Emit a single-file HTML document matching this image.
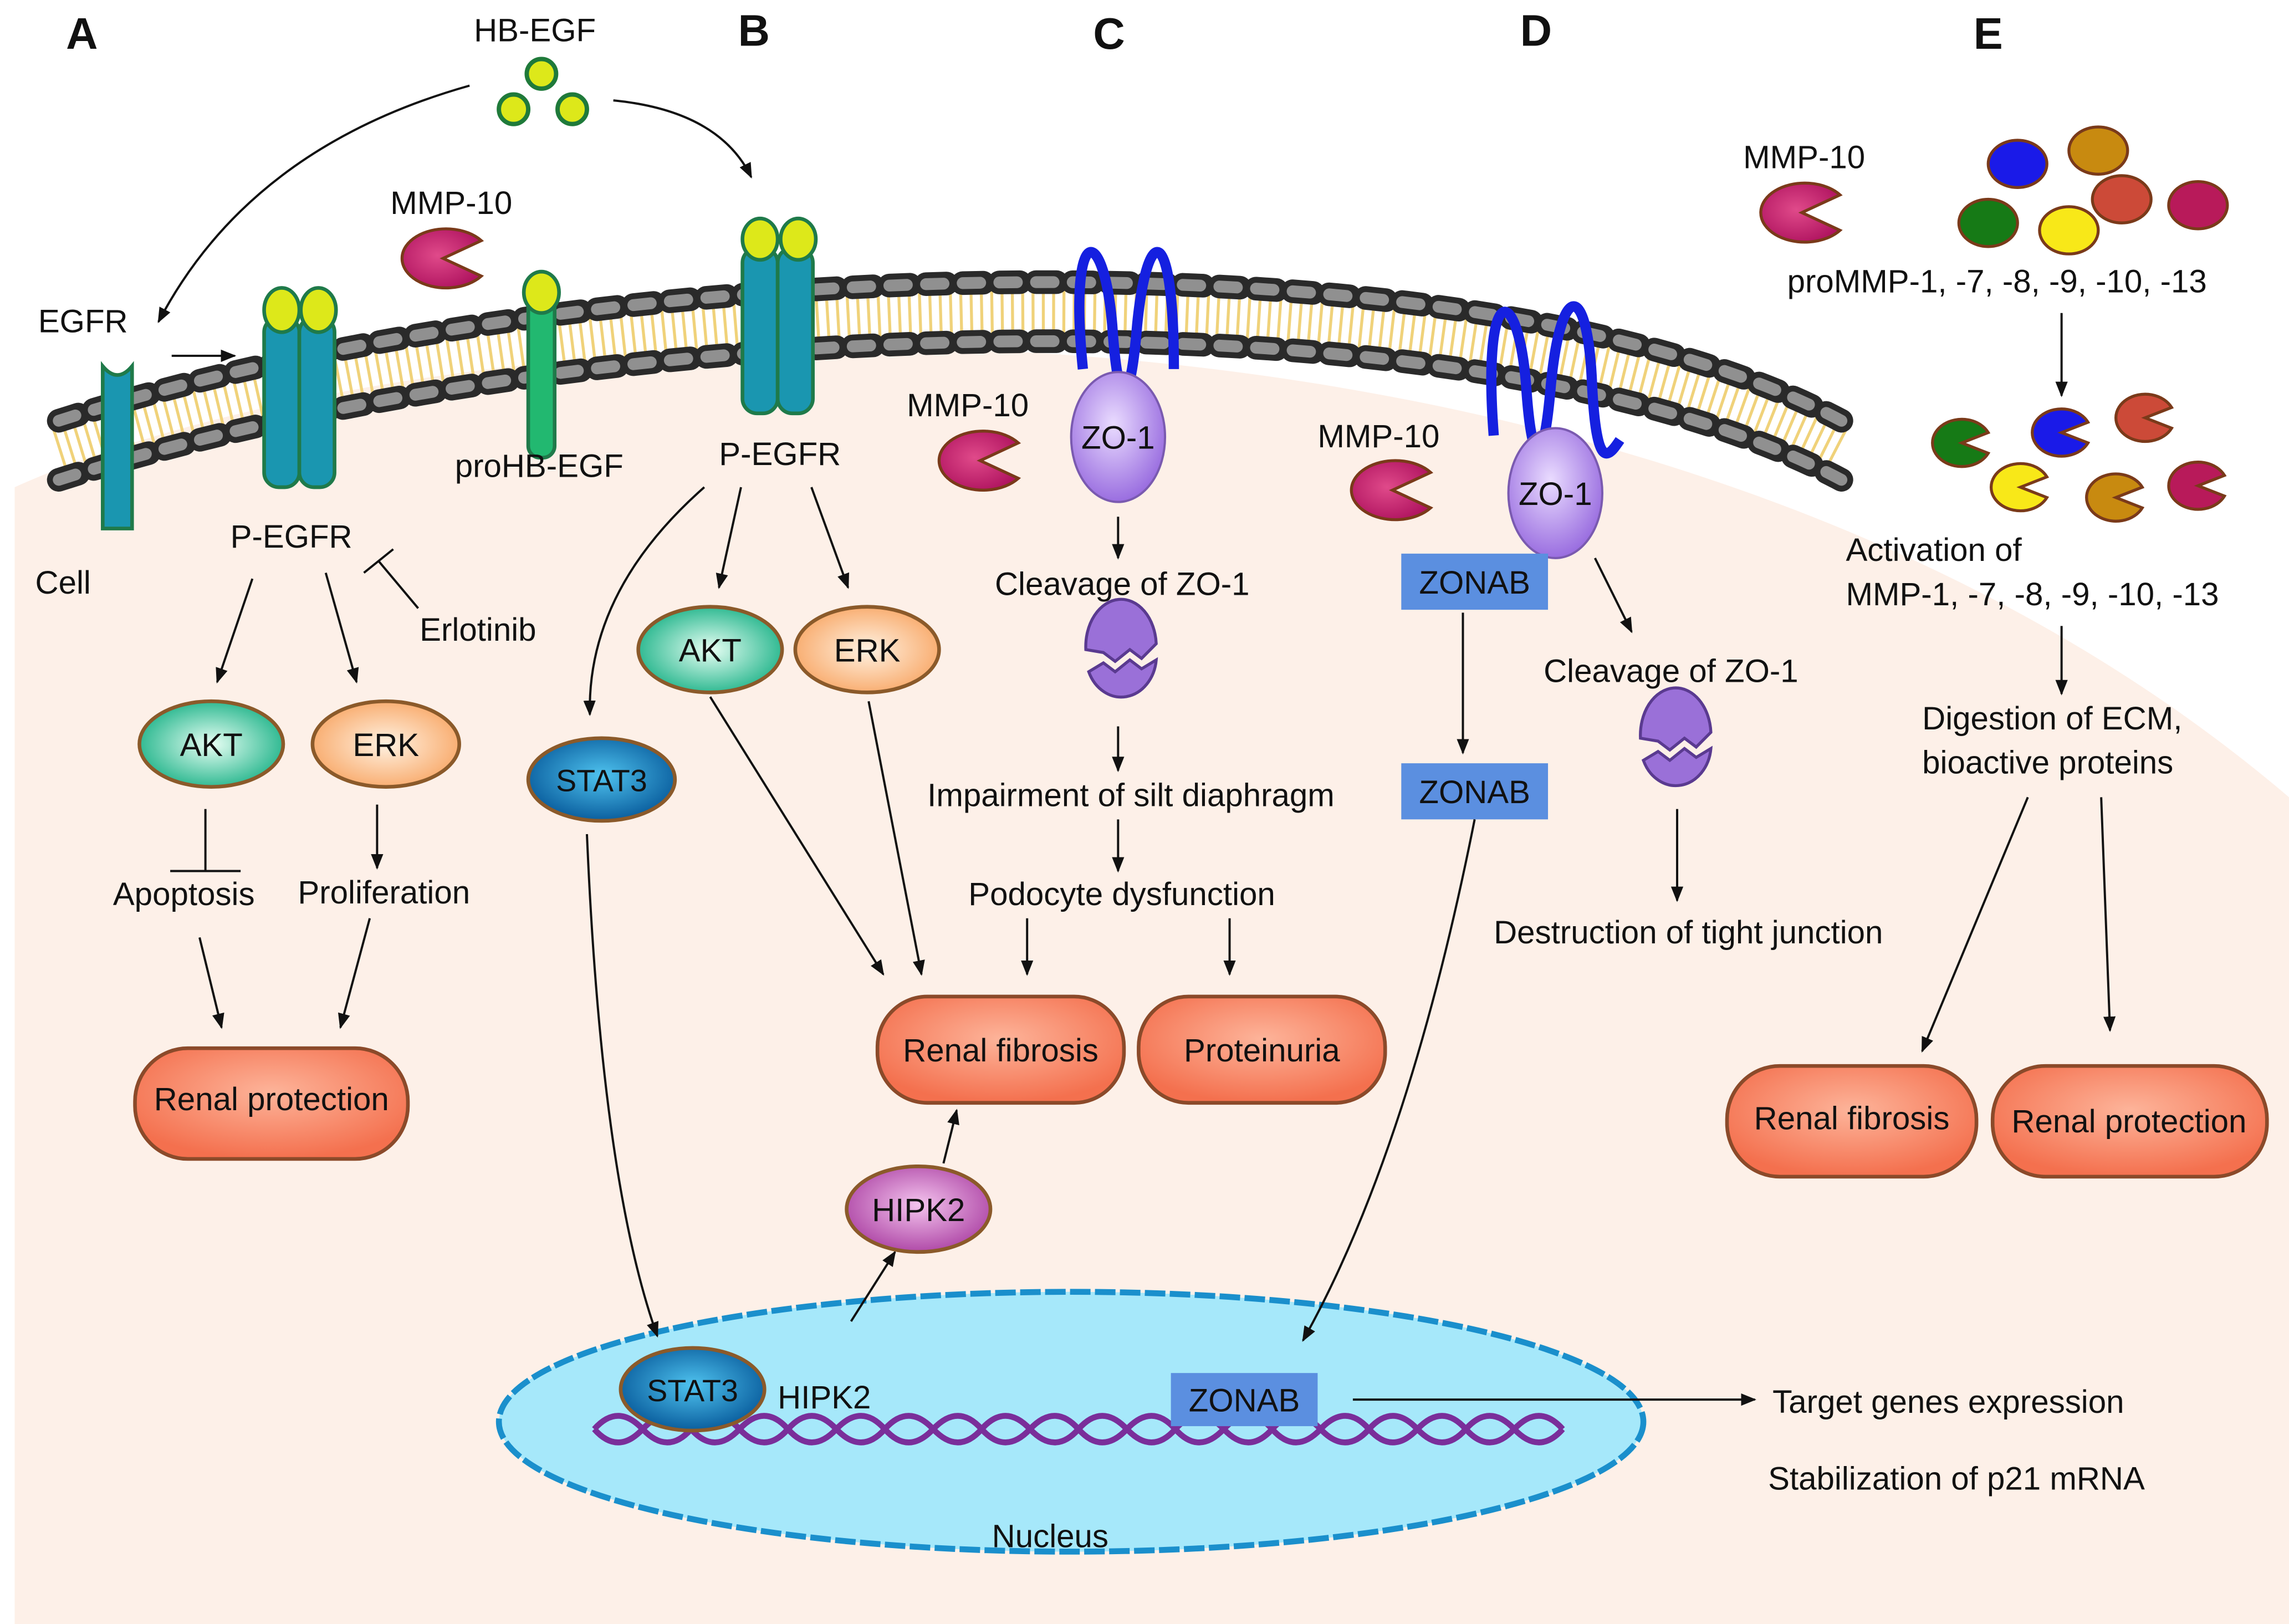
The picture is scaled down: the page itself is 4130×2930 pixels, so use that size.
<!DOCTYPE html>
<html><head><meta charset="utf-8"><style>
html,body{margin:0;padding:0;background:#fff}
svg{display:block}
text{font-family:"Liberation Sans",sans-serif;fill:#111}
</style></head><body>
<svg width="4130" height="2930" viewBox="0 0 1560 1100" preserveAspectRatio="none" xmlns="http://www.w3.org/2000/svg">
<defs>
<marker id="a" viewBox="0 0 10 10" refX="9" refY="5" markerWidth="7" markerHeight="7" orient="auto"><path d="M0,1 L10,5 L0,9 Z" fill="#111"/></marker>
<radialGradient id="pill" cx="50%" cy="40%" r="60%"><stop offset="0" stop-color="#fdb49a"/><stop offset="1" stop-color="#f4704e"/></radialGradient>
<radialGradient id="akt" cx="50%" cy="50%" r="55%"><stop offset="0" stop-color="#e8fff4"/><stop offset="1" stop-color="#1fb389"/></radialGradient>
<radialGradient id="erk" cx="50%" cy="50%" r="55%"><stop offset="0" stop-color="#fff2e2"/><stop offset="1" stop-color="#f8a868"/></radialGradient>
<radialGradient id="stat" cx="50%" cy="45%" r="55%"><stop offset="0" stop-color="#4fc3ef"/><stop offset="1" stop-color="#0a5e9e"/></radialGradient>
<radialGradient id="hipk" cx="50%" cy="45%" r="55%"><stop offset="0" stop-color="#f4c4ee"/><stop offset="1" stop-color="#b04aa8"/></radialGradient>
<radialGradient id="zo" cx="45%" cy="40%" r="60%"><stop offset="0" stop-color="#eadcff"/><stop offset="1" stop-color="#9a6ee0"/></radialGradient>
<radialGradient id="mmp" cx="45%" cy="45%" r="60%"><stop offset="0" stop-color="#e04a8a"/><stop offset="1" stop-color="#b01460"/></radialGradient>
<symbol id="pac" viewBox="-32 -22 64 44"><path d="M28,-12 A30,20 0 1 0 28,12 L2,0 Z" fill="url(#mmp)" stroke="#7a3a1a" stroke-width="2"/></symbol>
</defs>
<rect width="1560" height="1100" fill="#fff"/>
<path d="M10,1100 L10,330 C300,200 1100,150 1560,540 L1560,1100 Z" fill="#fdf0e8"/>
<!-- membrane -->
<path d="M40,305 C400,190 1000,170 1255,305" fill="none" stroke="#f0d27a" stroke-width="40" stroke-dasharray="2 5"/>
<path d="M40,285 C400,170 1000,150 1255,285" fill="none" stroke="#2a2a2a" stroke-width="16" stroke-dasharray="14 11" stroke-linecap="round"/>
<path d="M40,285 C400,170 1000,150 1255,285" fill="none" stroke="#909090" stroke-width="8" stroke-dasharray="12 13" stroke-linecap="round"/>
<path d="M40,325 C400,210 1000,190 1255,325" fill="none" stroke="#2a2a2a" stroke-width="16" stroke-dasharray="14 11" stroke-linecap="round"/>
<path d="M40,325 C400,210 1000,190 1255,325" fill="none" stroke="#909090" stroke-width="8" stroke-dasharray="12 13" stroke-linecap="round"/>
<!-- nucleus -->
<ellipse cx="730" cy="963" rx="390" ry="88" fill="#a6e8fa" stroke="#1a8fcc" stroke-width="4" stroke-dasharray="14 3"/>
<path d="M405,968 q16,-18 33,0 t33,0 t33,0 t33,0 t33,0 t33,0 t33,0 t33,0 t33,0 t33,0 t33,0 t33,0 t33,0 t33,0 t33,0 t33,0 t33,0 t33,0 t33,0 t33,0" fill="none" stroke="#7a2e9a" stroke-width="4"/>
<path d="M405,968 q16,18 33,0 t33,0 t33,0 t33,0 t33,0 t33,0 t33,0 t33,0 t33,0 t33,0 t33,0 t33,0 t33,0 t33,0 t33,0 t33,0 t33,0 t33,0 t33,0 t33,0" fill="none" stroke="#7a2e9a" stroke-width="4"/>
<!-- letters -->
<g font-weight="bold" font-size="30"><text x="45" y="33">A</text><text x="503" y="31">B</text><text x="745" y="33">C</text><text x="1036" y="31">D</text><text x="1345" y="33">E</text></g>
<!-- HB-EGF -->
<text x="323" y="28" font-size="22">HB-EGF</text>
<g fill="#dde81a" stroke="#1f7a3a" stroke-width="3"><circle cx="369" cy="50" r="10"/><circle cx="350" cy="74" r="10"/><circle cx="390" cy="74" r="10"/></g>
<g fill="none" stroke="#111" stroke-width="1.5" marker-end="url(#a)">
<path d="M320,58 Q170,100 108,218"/><path d="M418,68 Q490,75 512,120"/>
<path d="M117,241 L160,241"/>
</g>
<!-- receptors -->
<g stroke="#1f7a4a" stroke-width="2.5">
<path d="M70,248 v110 h20 v-110 q-10,12 -20,0Z" fill="#1a96b0"/>
<rect x="180" y="215" width="24" height="115" rx="10" fill="#1a96b0"/><rect x="204" y="215" width="24" height="115" rx="10" fill="#1a96b0"/>
<ellipse cx="192" cy="210" rx="12" ry="15" fill="#dde81a"/><ellipse cx="217" cy="210" rx="12" ry="15" fill="#dde81a"/>
<rect x="360" y="200" width="18" height="110" rx="8" fill="#22b870"/><ellipse cx="369" cy="198" rx="12" ry="14" fill="#dde81a"/>
<rect x="506" y="168" width="24" height="112" rx="10" fill="#1a96b0"/><rect x="530" y="168" width="24" height="112" rx="10" fill="#1a96b0"/>
<ellipse cx="518" cy="162" rx="12" ry="14" fill="#dde81a"/><ellipse cx="544" cy="162" rx="12" ry="14" fill="#dde81a"/>
</g>
<use href="#pac" x="268" y="153" width="64" height="44"/>
<text x="266" y="145" font-size="22">MMP-10</text>
<text x="26" y="225" font-size="22">EGFR</text>
<text x="310" y="323" font-size="22">proHB-EGF</text>
<text x="24" y="402" font-size="22">Cell</text>
<text x="157" y="371" font-size="22">P-EGFR</text>
<text x="286" y="434" font-size="22">Erlotinib</text>
<path d="M285,412 L258,380 M248,388 L268,372" fill="none" stroke="#111" stroke-width="1.5"/>
<g fill="none" stroke="#111" stroke-width="1.5" marker-end="url(#a)">
<path d="M172,392 L148,462"/><path d="M222,388 L243,462"/>
<path d="M257,545 L257,588"/><path d="M136,635 L151,696"/><path d="M252,622 L232,696"/>
</g>
<path d="M140,548 V590 M116,590 H164" stroke="#111" stroke-width="1.5"/>
<ellipse cx="144" cy="504" rx="49" ry="29" fill="url(#akt)" stroke="#8b5a2a" stroke-width="2.5"/><text x="144" y="512" font-size="22" text-anchor="middle">AKT</text>
<ellipse cx="263" cy="504" rx="50" ry="29" fill="url(#erk)" stroke="#8b5a2a" stroke-width="2.5"/><text x="263" y="512" font-size="22" text-anchor="middle">ERK</text>
<text x="77" y="613" font-size="22">Apoptosis</text><text x="203" y="612" font-size="22">Proliferation</text>
<rect x="92" y="710" width="186" height="75" rx="36" fill="url(#pill)" stroke="#8b4a2a" stroke-width="2.5"/><text x="185" y="752" font-size="22" text-anchor="middle">Renal protection</text>
<!-- B -->
<text x="490" y="315" font-size="22">P-EGFR</text>
<g fill="none" stroke="#111" stroke-width="1.5" marker-end="url(#a)">
<path d="M480,330 Q400,400 402,484"/><path d="M505,330 L490,398"/><path d="M553,330 L578,398"/>
<path d="M400,565 Q410,800 448,905"/><path d="M484,472 L602,660"/><path d="M592,475 L628,660"/>
<path d="M580,895 L610,848"/><path d="M643,788 L652,752"/>
</g>
<ellipse cx="484" cy="440" rx="49" ry="29" fill="url(#akt)" stroke="#8b5a2a" stroke-width="2.5"/><text x="484" y="448" font-size="22" text-anchor="middle">AKT</text>
<ellipse cx="591" cy="440" rx="49" ry="29" fill="url(#erk)" stroke="#8b5a2a" stroke-width="2.5"/><text x="591" y="448" font-size="22" text-anchor="middle">ERK</text>
<ellipse cx="410" cy="528" rx="50" ry="28" fill="url(#stat)" stroke="#8b5a2a" stroke-width="2.5"/><text x="410" y="536" font-size="21" text-anchor="middle">STAT3</text>
<ellipse cx="626" cy="819" rx="49" ry="29" fill="url(#hipk)" stroke="#8b5a2a" stroke-width="2.5"/><text x="626" y="827" font-size="22" text-anchor="middle">HIPK2</text>
<ellipse cx="472" cy="941" rx="49" ry="28" fill="url(#stat)" stroke="#8b5a2a" stroke-width="2.5"/><text x="472" y="949" font-size="21" text-anchor="middle">STAT3</text>
<text x="530" y="954" font-size="22">HIPK2</text>
<text x="676" y="1048" font-size="22">Nucleus</text>
<rect x="598" y="675" width="168" height="72" rx="34" fill="url(#pill)" stroke="#8b4a2a" stroke-width="2.5"/><text x="682" y="719" font-size="22" text-anchor="middle">Renal fibrosis</text>
<rect x="776" y="675" width="168" height="72" rx="34" fill="url(#pill)" stroke="#8b4a2a" stroke-width="2.5"/><text x="860" y="719" font-size="22" text-anchor="middle">Proteinuria</text>
<!-- C -->
<path d="M738,250 C728,150 752,150 758,220 C762,280 770,280 775,220 C782,150 800,150 800,250" fill="none" stroke="#1520e0" stroke-width="7"/>
<ellipse cx="762" cy="296" rx="32" ry="44" fill="url(#zo)" stroke="#7a5ab0" stroke-width="1.5"/><text x="762" y="304" font-size="22" text-anchor="middle">ZO-1</text>
<use href="#pac" x="634" y="290" width="64" height="44"/>
<text x="618" y="282" font-size="22">MMP-10</text>
<g fill="none" stroke="#111" stroke-width="1.5" marker-end="url(#a)">
<path d="M762,350 L762,378"/><path d="M762,492 L762,522"/><path d="M762,555 L762,590"/>
<path d="M700,622 L700,660"/><path d="M838,622 L838,660"/>
</g>
<text x="678" y="403" font-size="22">Cleavage of ZO-1</text>
<path d="M740,440 a24,32 0 0 1 48,-4 l-10,10 l-8,-6 l-10,8 l-8,-6 Z M742,455 l10,-6 l8,6 l10,-8 l8,6 l10,-6 a24,28 0 0 1 -46,8 Z" fill="#9a70d8" stroke="#5a3a90" stroke-width="2"/>
<text x="632" y="546" font-size="22">Impairment of silt diaphragm</text>
<text x="660" y="613" font-size="22">Podocyte dysfunction</text>
<!-- D -->
<path d="M1018,295 C1010,190 1034,190 1040,260 C1044,320 1052,320 1057,260 C1064,190 1082,190 1085,260 C1088,320 1096,310 1104,298" fill="none" stroke="#1520e0" stroke-width="7"/>
<ellipse cx="1060" cy="334" rx="32" ry="44" fill="url(#zo)" stroke="#7a5ab0" stroke-width="1.5"/><text x="1060" y="342" font-size="22" text-anchor="middle">ZO-1</text>
<use href="#pac" x="915" y="310" width="64" height="44"/>
<text x="898" y="303" font-size="22">MMP-10</text>
<rect x="955" y="375" width="100" height="38" fill="#5b8fe0"/><text x="1005" y="402" font-size="22" text-anchor="middle">ZONAB</text>
<rect x="955" y="517" width="100" height="38" fill="#5b8fe0"/><text x="1005" y="544" font-size="22" text-anchor="middle">ZONAB</text>
<rect x="798" y="930" width="100" height="36" fill="#5b8fe0"/><text x="848" y="956" font-size="22" text-anchor="middle">ZONAB</text>
<g fill="none" stroke="#111" stroke-width="1.5" marker-end="url(#a)">
<path d="M997,415 L997,510"/><path d="M1087,378 L1112,428"/><path d="M1005,555 Q960,780 888,908"/>
<path d="M1143,548 L1143,610"/><path d="M922,948 L1196,948"/>
</g>
<text x="1052" y="462" font-size="22">Cleavage of ZO-1</text>
<path d="M1118,500 a24,32 0 0 1 48,-4 l-10,10 l-8,-6 l-10,8 l-8,-6 Z M1120,515 l10,-6 l8,6 l10,-8 l8,6 l10,-6 a24,28 0 0 1 -46,8 Z" fill="#9a70d8" stroke="#5a3a90" stroke-width="2"/>
<text x="1018" y="639" font-size="22">Destruction of tight junction</text>
<text x="1208" y="957" font-size="22">Target genes expression</text>
<text x="1205" y="1009" font-size="22">Stabilization of p21 mRNA</text>
<!-- E -->
<text x="1188" y="114" font-size="22">MMP-10</text>
<use href="#pac" x="1194" y="122" width="64" height="44"/>
<g stroke="#7a3a1a" stroke-width="2">
<ellipse cx="1375" cy="111" rx="20" ry="16" fill="#1a1ae8"/><ellipse cx="1430" cy="102" rx="20" ry="16" fill="#c88a10"/>
<ellipse cx="1355" cy="151" rx="20" ry="16" fill="#167a16"/><ellipse cx="1410" cy="156" rx="20" ry="16" fill="#f8e818"/>
<ellipse cx="1446" cy="135" rx="20" ry="16" fill="#cc4a38"/><ellipse cx="1498" cy="139" rx="20" ry="16" fill="#b81a5a"/>
</g>
<text x="1218" y="198" font-size="22">proMMP-1, -7, -8, -9, -10, -13</text>
<g stroke="#7a3a1a" stroke-width="2">
<path d="M1355,293 A20,16 0 1 0 1355,307 L1337,300 Z" fill="#167a16"/>
<path d="M1423,286 A20,16 0 1 0 1423,300 L1405,293 Z" fill="#1a1ae8"/>
<path d="M1480,276 A20,16 0 1 0 1480,290 L1462,283 Z" fill="#cc4a38"/>
<path d="M1395,323 A20,16 0 1 0 1395,337 L1377,330 Z" fill="#f8e818"/>
<path d="M1460,330 A20,16 0 1 0 1460,344 L1442,337 Z" fill="#c88a10"/>
<path d="M1516,322 A20,16 0 1 0 1516,336 L1498,329 Z" fill="#b81a5a"/>
</g>
<g fill="none" stroke="#111" stroke-width="1.5" marker-end="url(#a)">
<path d="M1405,212 L1405,268"/><path d="M1405,424 L1405,470"/>
<path d="M1382,540 L1310,712"/><path d="M1432,540 L1438,698"/>
</g>
<text x="1258" y="380" font-size="22">Activation of</text>
<text x="1258" y="410" font-size="22">MMP-1, -7, -8, -9, -10, -13</text>
<text x="1310" y="494" font-size="22">Digestion of ECM,</text>
<text x="1310" y="524" font-size="22">bioactive proteins</text>
<rect x="1177" y="722" width="170" height="75" rx="36" fill="url(#pill)" stroke="#8b4a2a" stroke-width="2.5"/><text x="1262" y="765" font-size="22" text-anchor="middle">Renal fibrosis</text>
<rect x="1358" y="722" width="187" height="75" rx="36" fill="url(#pill)" stroke="#8b4a2a" stroke-width="2.5"/><text x="1451" y="767" font-size="22" text-anchor="middle">Renal protection</text>
</svg>
</body></html>
